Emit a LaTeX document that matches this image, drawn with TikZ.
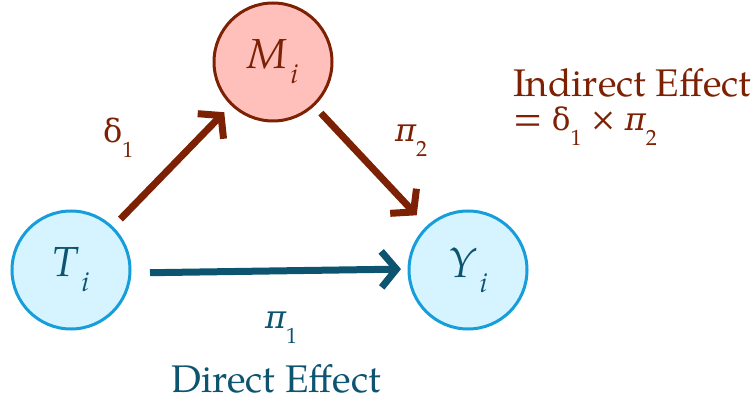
\documentclass[tikz,border=0pt]{standalone}
\usepackage{fontspec}
\IfFontExistsTF{texgyrepagella-regular.otf}{\setmainfont{texgyrepagella}[Extension=.otf,UprightFont=*-regular,ItalicFont=*-italic,BoldFont=*-bold,BoldItalicFont=*-bolditalic]}{}
\newfontfamily\gk{DejaVu Serif}
\usetikzlibrary{arrows.meta}
\definecolor{brn}{RGB}{125,33,4}
\definecolor{tl}{RGB}{12,84,112}
\definecolor{bfill}{RGB}{213,244,255}
\definecolor{bline}{RGB}{22,158,218}
\definecolor{pfill}{RGB}{255,192,188}
\newcommand{\mysub}[2][15pt]{\raisebox{-#1}{\fontsize{22}{22}\selectfont\normalfont #2}}
\newcommand{\vsub}[1]{\raisebox{-15pt}{\fontsize{28}{28}\selectfont #1}}
\newcommand{\gd}{{\gk δ}}
\newcommand{\gp}{{\gk\itshape π}}
\begin{document}
\begin{tikzpicture}[x=1pt,y=-1pt,
  var/.style={circle, minimum size=118pt, inner sep=0pt, outer sep=0pt, line width=3pt},
  blue var/.style={var, draw=bline, fill=bfill, text=tl},
  red var/.style={var, draw=brn, fill=pfill, text=brn},
  eff/.style={line width=7pt, -{Straight Barb[length=15pt,width=36pt]}},
  lbl/.style={inner sep=0pt, outer sep=0pt, font=\fontsize{38.5}{33}\selectfont},
  glbl/.style={inner sep=0pt, outer sep=0pt, font=\fontsize{32}{32}\selectfont},
  vtxt/.style={font=\fontsize{42}{42}\selectfont\itshape}
  ]
\useasboundingbox (0,0) rectangle (755,403);
\node[red var, vtxt] (M) at (273,62) {M\kern3pt\vsub{i}};
\node[blue var, vtxt] (T) at (71,270) {T\kern3pt\vsub{i}};
\node[blue var, vtxt] (Y) at (468,270) {Y\kern3pt\vsub{i}};
\draw[eff, brn, shorten <=12pt, shorten >=11pt] (T) -- (M);
\draw[eff, brn, shorten <=11pt, shorten >=16pt] (M) -- (Y);
\draw[eff, tl, shorten <=20pt, shorten >=8pt] ([yshift=-3pt]T.east) -- ([yshift=1pt]Y.west);
\node[glbl, text=brn, anchor=base west] (d1) at (103,143) {\gd\mysub{1}};
\node[glbl, text=brn, anchor=base west] (p2) at (395,142) {\gp\mysub{2}};
\node[glbl, text=tl, anchor=base west] (p1) at (265,328) {\gp\mysub{1}};
\node[lbl, text=tl, anchor=base] (de) at (276,392) {Direct Effect};
\node[lbl, text=brn, anchor=base west] (ie) at (513,97) {\begin{tabular}[t]{@{}l@{}}Indirect Effect\\= {\fontsize{31}{31}\selectfont\gd}\mysub{1} × {\fontsize{32}{32}\selectfont\gp}\mysub{2}\end{tabular}};
\end{tikzpicture}
\end{document}
